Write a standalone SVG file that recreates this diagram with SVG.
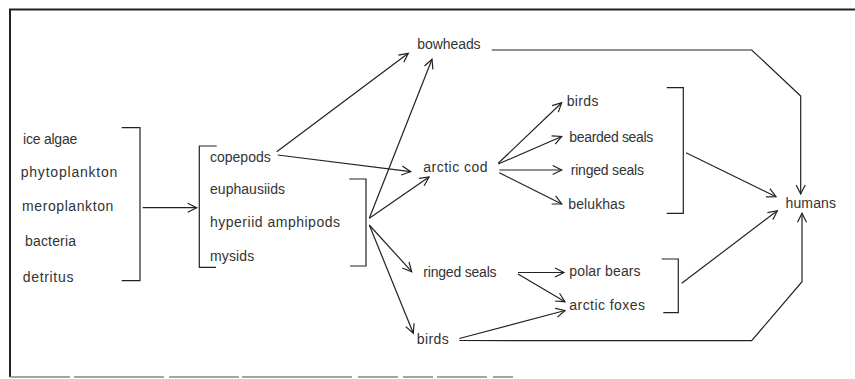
<svg xmlns="http://www.w3.org/2000/svg" width="855" height="379" viewBox="0 0 855 379">
<style>
text{font-family:"Liberation Sans",Arial,sans-serif;font-size:14px;fill:#333}
.c line,.c path{stroke:#222;stroke-width:1.2;fill:none}
.ar{marker-end:url(#a)}
.frame{stroke:#222;stroke-width:2;fill:none}
</style>
<defs>
<marker id="a" markerWidth="12" markerHeight="12" refX="10" refY="6" orient="auto" markerUnits="userSpaceOnUse">
<path d="M1,1.5 L10,6 L1,10.5" fill="none" stroke="#222" stroke-width="1.2"/>
</marker>
</defs>
<rect width="855" height="379" fill="#fff"/>
<g id="frame">
<path class="frame" d="M855,9.5 H10 V377"/>
<line x1="10" y1="377" x2="570" y2="377" stroke="#888" stroke-width="1.5" stroke-dasharray="60,4,90,5,70,3,110,6,40,5,30,4,50,6,20"/>
</g>
<g id="producers">
<text x="23" y="144" textLength="54.3">ice algae</text>
<text x="20.7" y="177.3" textLength="96.7">phytoplankton</text>
<text x="22" y="211" textLength="91.3">meroplankton</text>
<text x="25" y="246" textLength="51">bacteria</text>
<text x="22.7" y="282" textLength="50.7">detritus</text>
</g>
<g id="zooplankton">
<text x="210" y="162.3" textLength="60.7">copepods</text>
<text x="210" y="194" textLength="75">euphausiids</text>
<text x="210" y="226.7" textLength="130">hyperiid amphipods</text>
<text x="210" y="261" textLength="44.3">mysids</text>
</g>
<g id="bowheads"><text x="417.3" y="49" textLength="63.3">bowheads</text></g>
<g id="arctic-cod"><text x="423.3" y="171.7" textLength="64.3">arctic cod</text></g>
<g id="ringed-seals-2"><text x="423.3" y="276.5" textLength="73.3">ringed seals</text></g>
<g id="birds-2"><text x="416.7" y="343.5" textLength="32">birds</text></g>
<g id="cod-predators">
<text x="566.7" y="106" textLength="31.7">birds</text>
<text x="569.3" y="141.7" textLength="84">bearded seals</text>
<text x="570.7" y="175" textLength="73.3">ringed seals</text>
<text x="568.3" y="209.3" textLength="56.7">belukhas</text>
</g>
<g id="top-predators">
<text x="569.3" y="275.7" textLength="71.3">polar bears</text>
<text x="569.3" y="310" textLength="75.7">arctic foxes</text>
</g>
<g id="humans"><text x="785.5" y="207.5" textLength="50.5">humans</text></g>
<g id="connectors" class="c">
<path d="M121.7,127.7 H140 V280.7 H121.7"/>
<line class="ar" x1="142.7" y1="207.7" x2="196.7" y2="207.7"/>
<path d="M216.7,146 H199.3 V267.3 H216"/>
<path d="M349.3,179 H366 V266 H350"/>
<line class="ar" x1="276.7" y1="151.7" x2="408.3" y2="53.3"/>
<line class="ar" x1="277.7" y1="155" x2="410.7" y2="171.7"/>
<line class="ar" x1="369.3" y1="218.3" x2="432" y2="59.3"/>
<line class="ar" x1="369.3" y1="218.3" x2="429" y2="177"/>
<line class="ar" x1="369.3" y1="225" x2="411.7" y2="271.7"/>
<line class="ar" x1="369.3" y1="225" x2="413.3" y2="333.3"/>
<line class="ar" x1="498.3" y1="163.3" x2="561.7" y2="102.7"/>
<line class="ar" x1="498.3" y1="164" x2="561.7" y2="136.5"/>
<line class="ar" x1="499.3" y1="170" x2="561.7" y2="170"/>
<line class="ar" x1="499.3" y1="172.7" x2="561.7" y2="204"/>
<path d="M666.7,87.7 H683.3 V213.3 H666.7"/>
<line class="ar" x1="686" y1="152.7" x2="776" y2="196.7"/>
<path class="ar" d="M491.7,50 H751.7 L800.7,96 V194"/>
<line class="ar" x1="518" y1="272.5" x2="564" y2="272.5"/>
<line class="ar" x1="518" y1="274" x2="565" y2="301.7"/>
<line class="ar" x1="459.3" y1="338.5" x2="565" y2="310.5"/>
<path d="M661.7,259 H678.3 V312.7 H663.3"/>
<line class="ar" x1="681.7" y1="283.3" x2="777.3" y2="210.7"/>
<path class="ar" d="M459.3,340.5 L751.7,340.7 L802,281.7 V213.3"/>
</g>
</svg>
